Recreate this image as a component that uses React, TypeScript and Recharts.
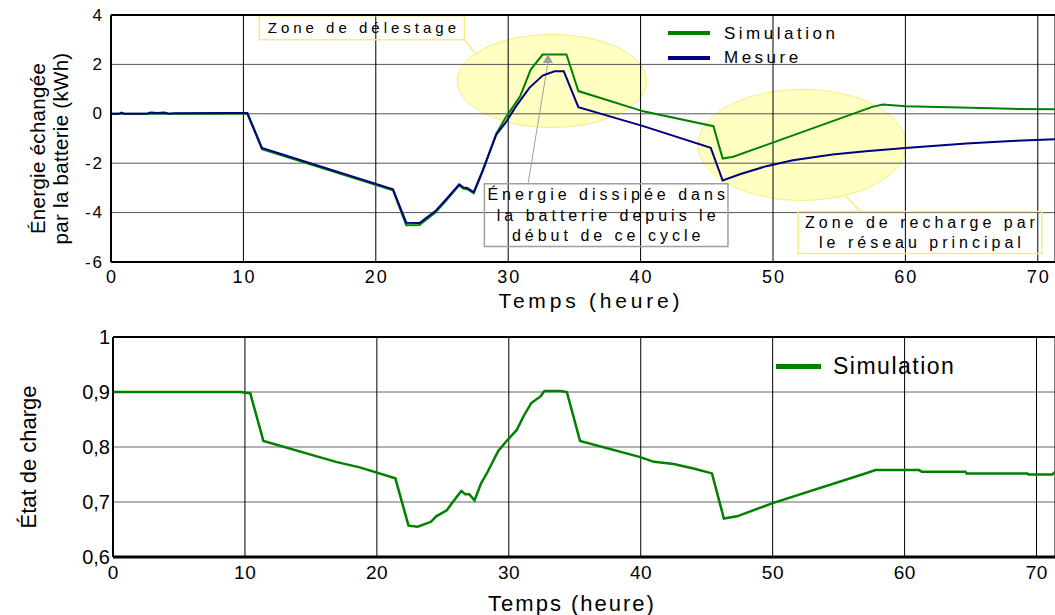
import React from "react";
import {
  LineChart,
  Line,
  XAxis,
  YAxis,
  CartesianGrid,
  Legend,
  ReferenceArea,
  ReferenceDot,
  ReferenceLine,
} from "recharts";

const FONT = '"Liberation Sans", Arial, Helvetica, sans-serif';
const GREEN = "#008000";
const NAVY = "#000080";

// Temps (heure) / énergie échangée (kWh) - simulation
const simTimes = [0, 10.3, 11.4, 21.3, 22.3, 23.3, 24.5, 25.3, 26.3, 26.6, 26.9, 27.4, 28.1, 29.1, 29.8, 30.9, 31.7, 32.6, 34.4, 35.3, 40.2, 45.5, 46.2, 47.0, 57.5, 58.3, 60.0, 64.1, 68.0, 71.3];
const simEnergy = [0, 0, -1.43, -3.1, -4.51, -4.5, -4.0, -3.52, -2.9, -3.03, -3.05, -3.22, -2.3, -0.8, -0.16, 0.71, 1.79, 2.4, 2.4, 0.92, 0.1, -0.5, -1.81, -1.74, 0.28, 0.38, 0.31, 0.26, 0.2, 0.18];

// mesure
const mesTimes = [0, 0.6, 0.8, 1.0, 2.7, 3.0, 3.5, 4.0, 4.4, 4.8, 9.0, 10.3, 11.4, 21.3, 22.3, 23.3, 24.5, 25.3, 26.3, 26.6, 26.9, 27.4, 28.1, 29.1, 29.8, 30.6, 31.6, 32.6, 33.5, 34.2, 35.3, 40.2, 45.3, 46.2, 47.5, 49.5, 51.5, 54.5, 57.0, 60.0, 64.6, 68.0, 71.3];
const mesEnergy = [0, 0, 0.05, 0, 0, 0.05, 0.03, 0.05, 0, 0.02, 0.03, 0.03, -1.38, -3.06, -4.41, -4.42, -3.94, -3.47, -2.86, -2.98, -3.0, -3.17, -2.25, -0.84, -0.36, 0.31, 1.05, 1.55, 1.72, 1.72, 0.27, -0.5, -1.38, -2.7, -2.45, -2.12, -1.88, -1.65, -1.52, -1.38, -1.2, -1.1, -1.03];

// état de charge - simulation
const socTimes = [0, 9.7, 10.2, 10.4, 11.4, 16.9, 18.7, 21.4, 22.4, 23.1, 24.1, 24.5, 25.3, 25.7, 26.4, 26.7, 27.0, 27.4, 27.9, 28.4, 29.2, 29.8, 30.6, 31.1, 31.7, 32.4, 32.7, 33.9, 34.4, 35.4, 39.9, 41.0, 42.5, 44.0, 45.4, 46.3, 47.3, 50.0, 56.9, 57.8, 61.1, 61.3, 64.6, 64.7, 69.3, 69.4, 71.2, 71.4];
const socValues = [0.9, 0.9, 0.898, 0.898, 0.811, 0.773, 0.763, 0.743, 0.657, 0.655, 0.664, 0.674, 0.685, 0.698, 0.72, 0.714, 0.714, 0.703, 0.734, 0.755, 0.793, 0.81, 0.831, 0.855, 0.88, 0.892, 0.902, 0.902, 0.9, 0.811, 0.782, 0.773, 0.769, 0.761, 0.752, 0.67, 0.674, 0.698, 0.751, 0.758, 0.758, 0.755, 0.755, 0.752, 0.752, 0.75, 0.75, 0.755];

const timeTicks = [0, 10, 20, 30, 40, 50, 60, 70];
const energyTicks = [-6, -4, -2, 0, 2, 4];
const socTicks = [0.6, 0.7, 0.8, 0.9, 1];
const legendOrder = ["Simulation", "Mesure"];

const simData = simTimes.map((t, i) => ({ t, v: simEnergy[i] }));
const mesData = mesTimes.map((t, i) => ({ t, v: mesEnergy[i] }));
const socData = socTimes.map((t, i) => ({ t, v: socValues[i] }));

const fmtSoc = (v: number) => (v === 1 ? "1" : v.toFixed(1).replace(".", ","));

const XTick = ({ x, y, payload, fontSize, spacing }: any) => (
  <text x={x + spacing / 2} y={y} textAnchor="middle" dominantBaseline="central" fontFamily={FONT} fontSize={fontSize} fill="#000" style={{ letterSpacing: spacing }}>
    {payload.value}
  </text>
);

const YTick = ({ x, y, payload, fontSize, spacing, fmt }: any) => (
  <text x={x + spacing} y={y} textAnchor="end" dominantBaseline="central" fontFamily={FONT} fontSize={fontSize} fill="#000" style={{ letterSpacing: spacing }}>
    {fmt ? fmt(payload.value) : payload.value}
  </text>
);

const AxisTitle = ({ viewBox, lines, fontSize, spacing, dx = 0, dy = 0, vertical, gap = 23 }: any) => {
  if (!viewBox) return null;
  const cx = viewBox.x + viewBox.width / 2;
  const cy = viewBox.y + viewBox.height / 2;
  return (
    <g>
      {lines.map((l: string, i: number) => {
        const px = vertical ? dx + i * gap : cx + dx;
        const py = vertical ? cy + dy : dy;
        return (
          <text key={i} x={px} y={py} textAnchor="middle" dominantBaseline="central" fontFamily={FONT} fontSize={fontSize} fill="#000"
            style={{ letterSpacing: spacing }} transform={vertical ? `rotate(-90, ${px}, ${py})` : undefined}>
            {l}
          </text>
        );
      })}
    </g>
  );
};

const BoxText = ({ viewBox, lines, fontSize, spacing, lh }: any) => {
  if (!viewBox) return null;
  const cx = viewBox.x + viewBox.width / 2 + spacing / 2;
  const cy = viewBox.y + viewBox.height / 2;
  const y0 = cy - ((lines.length - 1) * lh) / 2;
  return (
    <g>
      {lines.map((l: string, i: number) => (
        <text key={i} x={cx} y={y0 + i * lh} textAnchor="middle" dominantBaseline="central" fontFamily={FONT} fontSize={fontSize} fill="#000" style={{ letterSpacing: spacing }}>
          {l}
        </text>
      ))}
    </g>
  );
};

const ellipseShape = (rx: number, ry: number) => (p: any) => (
  <ellipse cx={p.cx} cy={p.cy} rx={rx} ry={ry} fill="#ffff66" fillOpacity={0.4} stroke="#f4ee80" strokeWidth={1} />
);

const arrowHead = (p: any) => (
  <polygon points={`${p.cx},${p.cy} ${p.cx - 5},${p.cy + 9} ${p.cx + 5},${p.cy + 9}`} fill="#a0a0a0" />
);

const LegendBox = ({ payload, fontSize, spacing, rowH, lineW, lineH, gap }: any) => {
  const items = [...(payload || [])].sort((a: any, b: any) => legendOrder.indexOf(a.value) - legendOrder.indexOf(b.value));
  return (
    <div style={{ fontFamily: FONT }}>
      {items.map((e: any, i: number) => (
        <div key={i} style={{ display: "flex", alignItems: "center", height: rowH }}>
          <span style={{ display: "inline-block", width: lineW, height: lineH, background: e.color }} />
          <span style={{ marginLeft: gap, fontSize, letterSpacing: spacing, color: "#000", lineHeight: 1 }}>{e.value}</span>
        </div>
      ))}
    </div>
  );
};

export default function App() {
  return (
    <div style={{ position: "absolute", left: 0, top: 0, width: 1055, height: 615, background: "#fff", overflow: "hidden" }}>
      <div style={{ position: "absolute", left: 0, top: 0 }}>
        <LineChart width={1055} height={315} margin={{ top: 15, right: 0, bottom: 0, left: 0 }}>
          <ReferenceDot x={33.3} y={1.33} r={1} shape={ellipseShape(94.5, 46.5)} ifOverflow="visible" zIndex={-200} />
          <ReferenceDot x={52.2} y={-1.26} r={1} shape={ellipseShape(104, 55.5)} ifOverflow="visible" zIndex={-200} />
          <CartesianGrid vertical={false} stroke="#555" />
          <CartesianGrid horizontal={false} stroke="#000" />
          <XAxis
            dataKey="t"
            type="number"
            domain={[0, 71.3]}
            ticks={timeTicks}
            allowDataOverflow
            height={53}
            tickLine={false}
            tickSize={0}
            tickMargin={15}
            axisLine={{ stroke: "#000", strokeWidth: 2 }}
            tick={<XTick fontSize={18} spacing={2} />}
            label={<AxisTitle lines={["Temps (heure)"]} fontSize={21} spacing={3.8} dx={8} dy={300} />}
          />
          <YAxis
            type="number"
            domain={[-6, 4]}
            ticks={energyTicks}
            width={111}
            tickLine={false}
            tickSize={0}
            tickMargin={9}
            axisLine={{ stroke: "#000", strokeWidth: 2 }}
            tick={<YTick fontSize={17} spacing={2} />}
            label={<AxisTitle lines={["Énergie échangée", "par la batterie (kWh)"]} fontSize={20.5} spacing={0.3} vertical dx={37} dy={10} gap={23} />}
          />
          <ReferenceLine y={4} stroke="#000" strokeWidth={2} />
          <ReferenceArea x1={11.2} x2={26.7} y1={3.0} y2={3.97} fill="none" stroke="#f4ee80" strokeWidth={1.5} fillOpacity={0}
            label={<BoxText lines={["Zone de délestage"]} fontSize={15} spacing={4} lh={20} />} />
          <ReferenceLine segment={[{ x: 26.7, y: 3.0 }, { x: 27.6, y: 2.39 }]} stroke="#f4ee80" strokeWidth={1.5} />
          <ReferenceArea x1={51.9} x2={70.3} y1={-5.66} y2={-3.96} fill="none" stroke="#f4ee80" strokeWidth={1.5} fillOpacity={0}
            label={<BoxText lines={["Zone de recharge par", "le réseau principal"]} fontSize={16} spacing={4} lh={20} />} />
          <ReferenceLine segment={[{ x: 55.5, y: -3.34 }, { x: 56.6, y: -3.96 }]} stroke="#f4ee80" strokeWidth={1.5} />
          <ReferenceArea x1={28.2} x2={46.6} y1={-5.37} y2={-2.83} fill="none" stroke="#a0a0a0" strokeWidth={1.5} fillOpacity={0}
            label={<BoxText lines={["Énergie dissipée dans", "la batterie depuis le", "début de ce cycle"]} fontSize={16} spacing={4} lh={20.5} />} />
          <ReferenceLine segment={[{ x: 31.5, y: -2.83 }, { x: 33.0, y: 2.07 }]} stroke="#a0a0a0" strokeWidth={1} />
          <ReferenceDot x={33.0} y={2.42} r={1} shape={arrowHead} />
          <Line data={simData} dataKey="v" name="Simulation" type="linear" stroke={GREEN} strokeWidth={2} dot={false} isAnimationActive={false} />
          <Line data={mesData} dataKey="v" name="Mesure" type="linear" stroke={NAVY} strokeWidth={2} dot={false} isAnimationActive={false} />
          <Legend
            layout="horizontal"
            verticalAlign="middle"
            align="center"
            wrapperStyle={{ position: "absolute", left: 668, top: 21, width: "auto", height: "auto" }}
            content={<LegendBox fontSize={17} spacing={3.5} rowH={24.5} lineW={42} lineH={4} gap={14} />}
          />
        </LineChart>
      </div>
      <div style={{ position: "absolute", left: 0, top: 315 }}>
        <LineChart width={1055} height={300} margin={{ top: 22, right: 0, bottom: 0, left: 0 }}>
          <CartesianGrid vertical={false} stroke="#666" />
          <CartesianGrid horizontal={false} stroke="#000" />
          <XAxis
            dataKey="t"
            type="number"
            domain={[0, 71.4]}
            ticks={timeTicks}
            allowDataOverflow
            height={58}
            tickLine={false}
            tickSize={0}
            tickMargin={15}
            axisLine={{ stroke: "#000", strokeWidth: 3 }}
            tick={<XTick fontSize={19} spacing={0.5} />}
            label={<AxisTitle lines={["Temps (heure)"]} fontSize={22} spacing={2} dx={-12} dy={288} />}
          />
          <YAxis
            type="number"
            domain={[0.6, 1]}
            ticks={socTicks}
            width={113}
            tickLine={false}
            tickSize={0}
            tickMargin={3}
            axisLine={{ stroke: "#000", strokeWidth: 2 }}
            tick={<YTick fontSize={20} spacing={0} fmt={fmtSoc} />}
            label={<AxisTitle lines={["État de charge"]} fontSize={22} spacing={0} vertical dx={28} dy={10} />}
          />
          <ReferenceLine y={1} stroke="#000" strokeWidth={2} />
          <Line data={socData} dataKey="v" name="Simulation" type="linear" stroke={GREEN} strokeWidth={2.5} dot={false} isAnimationActive={false} />
          <Legend
            layout="horizontal"
            verticalAlign="middle"
            align="center"
            wrapperStyle={{ position: "absolute", left: 776, top: 36, width: "auto", height: "auto" }}
            content={<LegendBox fontSize={23} spacing={1.5} rowH={30} lineW={45} lineH={5} gap={12} />}
          />
        </LineChart>
      </div>
    </div>
  );
}
